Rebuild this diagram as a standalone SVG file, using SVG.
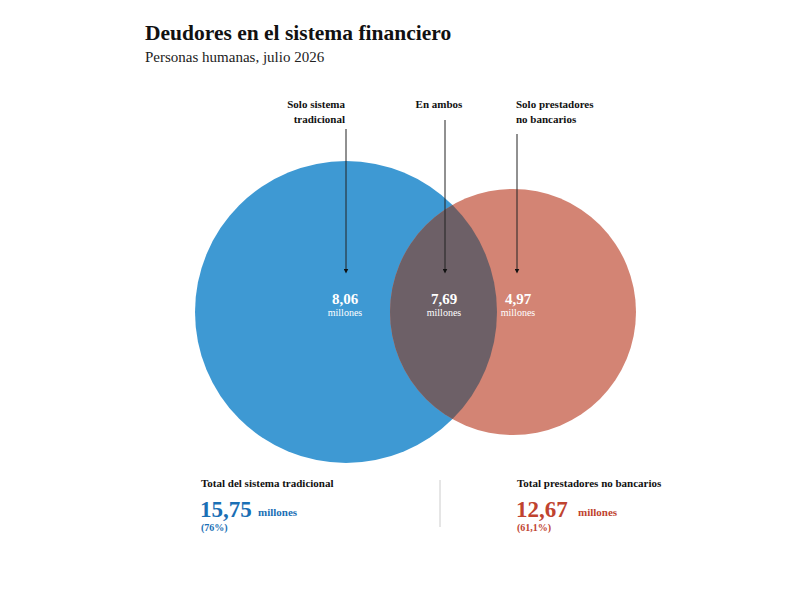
<svg xmlns="http://www.w3.org/2000/svg" width="800" height="600" viewBox="0 0 800 600">
<defs>
<style>
.t{font-family:"Liberation Serif","DejaVu Serif",serif;}
.ttl{font-size:21.5px;font-weight:bold;fill:#111;}
.sub{font-size:15px;fill:#222;}
.lbl{font-size:11px;font-weight:bold;fill:#111;}
.num{font-size:15px;font-weight:bold;fill:#fff;}
.mil{font-size:10px;fill:#fff;}
.lead{stroke:#222;stroke-width:1;fill:none;}
.big{font-size:23px;font-weight:bold;}
.sm{font-size:11px;font-weight:bold;}
.pc{font-size:10px;font-weight:bold;}
.blue{fill:#1a6fb5;}
.red{fill:#c0432f;}
</style>
<marker id="arr" viewBox="0 0 6 6" refX="3" refY="3" markerWidth="5" markerHeight="5" orient="auto">
<path d="M0,0 L6,3 L0,6 z" fill="#111"/>
</marker>
<clipPath id="clipBlue"><circle cx="346" cy="312" r="151"/></clipPath>
</defs>
<rect width="800" height="600" fill="#fff"/>
<text class="t ttl" x="145" y="40">Deudores en el sistema financiero</text>
<text class="t sub" x="145" y="62">Personas humanas, julio 2026</text>

<g id="blue-circle"><circle cx="346" cy="312" r="151" fill="#3e99d3"/></g>
<g id="red-circle"><circle cx="513" cy="312" r="123" fill="#d38474"/></g>
<g id="intersection"><circle cx="513" cy="312" r="123" fill="#6d6067" clip-path="url(#clipBlue)"/></g>

<g id="connectors">
<line class="lead" x1="346" y1="129" x2="346" y2="271" marker-end="url(#arr)"/>
<line class="lead" x1="445" y1="120" x2="445" y2="271" marker-end="url(#arr)"/>
<line class="lead" x1="517" y1="134" x2="517" y2="271" marker-end="url(#arr)"/>
</g>

<g id="label-solo-tradicional">
<text class="t lbl" x="345" y="108" text-anchor="end">Solo sistema</text>
<text class="t lbl" x="345" y="123" text-anchor="end">tradicional</text>
</g>
<g id="label-ambos"><text class="t lbl" x="439" y="108" text-anchor="middle">En ambos</text></g>
<g id="label-solo-prestadores">
<text class="t lbl" x="516" y="108">Solo prestadores</text>
<text class="t lbl" x="516" y="123">no bancarios</text>
</g>

<g id="val-806">
<text class="t num" x="345" y="304" text-anchor="middle">8,06</text>
<text class="t mil" x="345" y="316" text-anchor="middle">millones</text>
</g>
<g id="val-769">
<text class="t num" x="444" y="304" text-anchor="middle">7,69</text>
<text class="t mil" x="444" y="316" text-anchor="middle">millones</text>
</g>
<g id="val-497">
<text class="t num" x="518" y="304" text-anchor="middle">4,97</text>
<text class="t mil" x="518" y="316" text-anchor="middle">millones</text>
</g>

<g id="total-tradicional">
<text class="t lbl" x="201" y="487">Total del sistema tradicional</text>
<text class="t big blue" x="200" y="517">15,75</text>
<text class="t sm blue" x="258" y="516">millones</text>
<text class="t pc blue" x="201" y="531">(76%)</text>
</g>
<line x1="440" y1="480" x2="440" y2="527" stroke="#ccc" stroke-width="1"/>
<g id="total-prestadores">
<text class="t lbl" x="517" y="487">Total prestadores no bancarios</text>
<text class="t big red" x="516" y="517">12,67</text>
<text class="t sm red" x="578" y="516">millones</text>
<text class="t pc red" x="517" y="531">(61,1%)</text>
</g>
</svg>
